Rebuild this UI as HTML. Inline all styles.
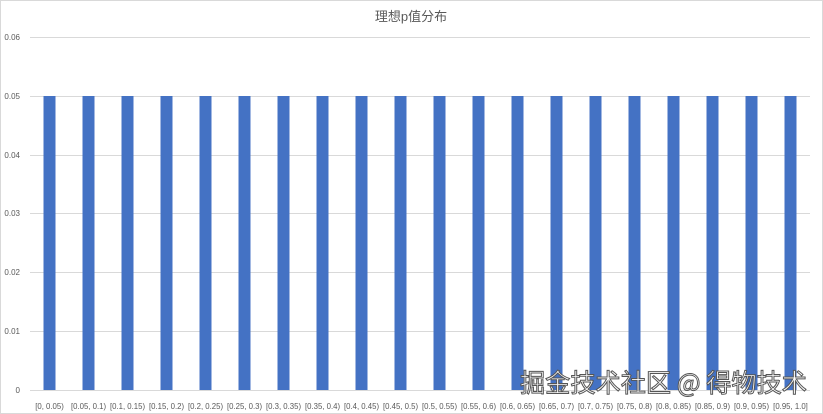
<!DOCTYPE html>
<html><head><meta charset="utf-8"><style>
body{margin:0;background:#fff}
svg{display:block}
</style></head><body>
<svg width="823" height="414" xmlns="http://www.w3.org/2000/svg" font-family="Liberation Sans, Noto Sans CJK SC, sans-serif">
<rect x="0.5" y="0.5" width="822" height="413" fill="#fff" stroke="#d9d9d9"/>
<text x="411" y="21" text-anchor="middle" font-size="13" fill="#595959">理想p值分布</text>
<g stroke="#d9d9d9" stroke-width="1">
<line x1="30" x2="810" y1="37.5" y2="37.5"/>
<line x1="30" x2="810" y1="96.5" y2="96.5"/>
<line x1="30" x2="810" y1="155.5" y2="155.5"/>
<line x1="30" x2="810" y1="213.5" y2="213.5"/>
<line x1="30" x2="810" y1="272.5" y2="272.5"/>
<line x1="30" x2="810" y1="331.5" y2="331.5"/>
<line x1="30" x2="810" y1="390.5" y2="390.5"/>
</g>
<g font-size="8" fill="#595959" text-anchor="end">
<text x="20" y="40">0.06</text>
<text x="20" y="99">0.05</text>
<text x="20" y="158">0.04</text>
<text x="20" y="216">0.03</text>
<text x="20" y="275">0.02</text>
<text x="20" y="334">0.01</text>
<text x="20" y="393">0</text>
</g>
<g fill="#4472c4">
<rect x="43.5" y="96" width="12" height="294"/>
<rect x="82.5" y="96" width="12" height="294"/>
<rect x="121.5" y="96" width="12" height="294"/>
<rect x="160.5" y="96" width="12" height="294"/>
<rect x="199.5" y="96" width="12" height="294"/>
<rect x="238.5" y="96" width="12" height="294"/>
<rect x="277.5" y="96" width="12" height="294"/>
<rect x="316.5" y="96" width="12" height="294"/>
<rect x="355.5" y="96" width="12" height="294"/>
<rect x="394.5" y="96" width="12" height="294"/>
<rect x="433.5" y="96" width="12" height="294"/>
<rect x="472.5" y="96" width="12" height="294"/>
<rect x="511.5" y="96" width="12" height="294"/>
<rect x="550.5" y="96" width="12" height="294"/>
<rect x="589.5" y="96" width="12" height="294"/>
<rect x="628.5" y="96" width="12" height="294"/>
<rect x="667.5" y="96" width="12" height="294"/>
<rect x="706.5" y="96" width="12" height="294"/>
<rect x="745.5" y="96" width="12" height="294"/>
<rect x="784.5" y="96" width="12" height="294"/>
</g>
<g font-size="7.8" fill="#595959" text-anchor="middle">
<text x="49.5" y="409">[0, 0.05)</text>
<text x="88.5" y="409">[0.05, 0.1)</text>
<text x="127.5" y="409">[0.1, 0.15)</text>
<text x="166.5" y="409">[0.15, 0.2)</text>
<text x="205.5" y="409">[0.2, 0.25)</text>
<text x="244.5" y="409">[0.25, 0.3)</text>
<text x="283.5" y="409">[0.3, 0.35)</text>
<text x="322.5" y="409">[0.35, 0.4)</text>
<text x="361.5" y="409">[0.4, 0.45)</text>
<text x="400.5" y="409">[0.45, 0.5)</text>
<text x="439.5" y="409">[0.5, 0.55)</text>
<text x="478.5" y="409">[0.55, 0.6)</text>
<text x="517.5" y="409">[0.6, 0.65)</text>
<text x="556.5" y="409">[0.65, 0.7)</text>
<text x="595.5" y="409">[0.7, 0.75)</text>
<text x="634.5" y="409">[0.75, 0.8)</text>
<text x="673.5" y="409">[0.8, 0.85)</text>
<text x="712.5" y="409">[0.85, 0.9)</text>
<text x="751.5" y="409">[0.9, 0.95)</text>
<text x="790.5" y="409">[0.95, 1.0]</text>
</g>
<text x="520" y="392" font-size="25.5" fill="#fff" stroke="#555" stroke-width="1" textLength="287" lengthAdjust="spacingAndGlyphs" font-family="Noto Sans CJK SC, sans-serif">掘金技术社区 @ 得物技术</text>
</svg>
</body></html>
